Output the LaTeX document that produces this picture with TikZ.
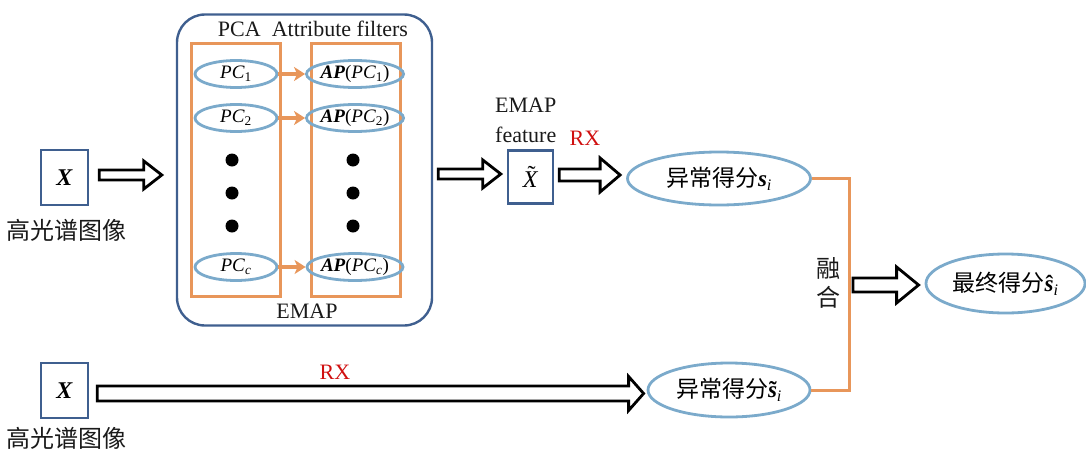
\documentclass[tikz,border=0pt]{standalone}
\usepackage{fontspec}
\setmainfont{Liberation Serif}
\newfontfamily\cjk{Noto Sans CJK SC}
\usetikzlibrary{shapes.geometric,calc,arrows.meta}
\definecolor{boxblue}{HTML}{3F5F8F}
\definecolor{ellblue}{HTML}{7BAACB}
\definecolor{orng}{HTML}{E8965A}
\definecolor{rxred}{HTML}{D01010}
\definecolor{txt}{HTML}{1A1A1A}
% accent stacked over a base: #1 accent glyph, #2 base, #3 horizontal shift
\newcommand\stackacc[3]{\leavevmode\setbox0\hbox{#2}%
  \rlap{\hbox to\wd0{\hss\kern#3\raisebox{\dimexpr\ht0-0.46em\relax}{#1}\hss}}\box0}
% hollow block arrow: start, end, half shaft, half head, head length
\newcommand\harrow[5]{%
  \draw[harrowstyle] let \p1=#1, \p2=#2 in
    (\x1,\y1+#3) -- (\x2-#5,\y1+#3) -- (\x2-#5,\y1+#4) -- (\x2,\y1)
    -- (\x2-#5,\y1-#4) -- (\x2-#5,\y1-#3) -- (\x1,\y1-#3) -- cycle;}
\begin{document}
\begin{tikzpicture}[x=1pt,y=-1pt,
  harrowstyle/.style={draw=black,fill=white,line width=2.8pt,line join=miter},
  xbox/.style={draw=boxblue,line width=2.4pt,minimum width=47pt,minimum height=55pt,inner sep=0pt,
    font=\fontsize{24}{26}\selectfont},
  smallell/.style={ellipse,draw=ellblue,line width=2.8pt,minimum width=82pt,minimum height=27pt,inner sep=0pt,
    font=\fontsize{19}{20}\selectfont},
  bigell/.style={ellipse,draw=ellblue,line width=2.8pt,inner sep=0pt,
    font=\fontsize{23}{25}\selectfont},
  orect/.style={draw=orng,line width=3pt,minimum width=89pt,minimum height=253pt,inner sep=0pt},
  cjklabel/.style={font=\cjk\fontsize{24}{26}\selectfont,text=txt,inner sep=0pt},
  lab/.style={font=\fontsize{22}{24}\selectfont,text=txt,inner sep=0pt},
  rx/.style={font=\fontsize{22}{24}\selectfont,text=rxred,inner sep=0pt},
  dot/.style={circle,fill=black,minimum size=13pt,inner sep=0pt},
  oarrow/.style={draw=orng,line width=3.2pt,-{Stealth[length=11pt,width=14pt,inset=3pt]}}]
\useasboundingbox (0,0) rectangle (1086,450);

% top input
\node[xbox] (xa) at (64.5,177.5) {\textbf{\textit{X}}};
\node[cjklabel] (la) at (66,230) {高光谱图像};

% EMAP block
\node[draw=boxblue,line width=2.4pt,rounded corners=28pt,minimum width=255pt,minimum height=311pt,inner sep=0pt] (big) at (304.5,170) {};
\node[lab] (pcat) at (313,29) {PCA\ \ Attribute filters};
\node[lab] (emapb) at (307,311) {EMAP};
\node[orect] (lr) at (235.5,169.5) {};
\node[orect] (rr) at (355.5,169.5) {};

\node[smallell] (pc1) at (236,74) {\textit{PC}\textsubscript{1}};
\node[smallell] (pc2) at (236,118) {\textit{PC}\textsubscript{2}};
\node[smallell] (pcc) at (236,267) {\textit{PC}\textsubscript{\textit{c}}};
\node[smallell,minimum width=84pt] (ap1) at (355,74) {\textbf{\textit{AP}}(\textit{PC}\textsubscript{1})};
\node[smallell,minimum width=84pt] (ap2) at (355,118) {\textbf{\textit{AP}}(\textit{PC}\textsubscript{2})};
\node[smallell,minimum width=84pt] (apc) at (355,267) {\textbf{\textit{AP}}(\textit{PC}\textsubscript{\textit{c}})};

\node[dot] (d1) at (232,160) {};
\node[dot] (d2) at (232,193) {};
\node[dot] (d3) at (232,226) {};
\node[dot] (d4) at (353,160) {};
\node[dot] (d5) at (353,193) {};
\node[dot] (d6) at (353,226) {};

\draw[oarrow] (pc1.east) -- (ap1.west);
\draw[oarrow] (pc2.east) -- (ap2.west);
\draw[oarrow] (pcc.east) -- (apc.west);

% EMAP feature
\node[xbox,minimum width=45pt,minimum height=53pt] (xt) at (530.5,177) {\stackacc{˜}{\textit{X}}{2pt}};
\node[lab,anchor=west] (emapt) at (495,105) {EMAP};
\node[lab,anchor=west] (feat) at (495,135) {feature};
\node[rx] (rx1) at (585,138) {RX};

% scores
\node[bigell,minimum width=183pt,minimum height=53pt] (si) at (719,178.5)
  {{\cjk 异常得分}\textbf{\textit{s}}\textsubscript{\textit{i}}};
\node[bigell,minimum width=162pt,minimum height=54pt] (sti) at (729,390)
  {{\cjk 异常得分}\stackacc{\textbf{˜}}{\textbf{\textit{s}}}{1pt}\textsubscript{\textit{i}}};
\node[bigell,minimum width=159pt,minimum height=59pt] (fin) at (1005.5,283.5)
  {{\cjk 最终得分}\stackacc{\textbf{ˆ}}{\textbf{\textit{s}}}{1pt}\textsubscript{\textit{i}}};

% fusion connector
\coordinate (fj) at (849,0);
\draw[orng,line width=3pt] (si.east) -- (si.east -| fj) -- (sti.east -| fj) -- (sti.east);
\node[cjklabel] (rh1) at (828,268) {融};
\node[cjklabel] (rh2) at (828,297) {合};

% bottom input
\node[xbox] (xb) at (64.5,390.5) {\textbf{\textit{X}}};
\node[cjklabel] (lb) at (66,438) {高光谱图像};
\node[rx] (rx2) at (335,372) {RX};

% block arrows
\harrow{($(xa.east)+(10pt,2.5pt)$)}{($(big.west)+(-14pt,0)$)}{5pt}{14pt}{18pt}
\harrow{($(big.east |- xt.center)+(5pt,3pt)$)}{($(xt.west)+(-6pt,0)$)}{5pt}{14pt}{18pt}
\harrow{($(xt.east)+(5pt,2pt)$)}{($(si.west)+(-6pt,0)$)}{6pt}{17pt}{20pt}
\harrow{($(fj |- fin.west)+(4pt,-1.5pt)$)}{($(fin.west)+(-6pt,0)$)}{7pt}{18pt}{22pt}
\harrow{($(xb.east)+(8pt,-3pt)$)}{($(sti.west)+(-3pt,0)$)}{7.5pt}{17pt}{15pt}
\end{tikzpicture}
\end{document}
